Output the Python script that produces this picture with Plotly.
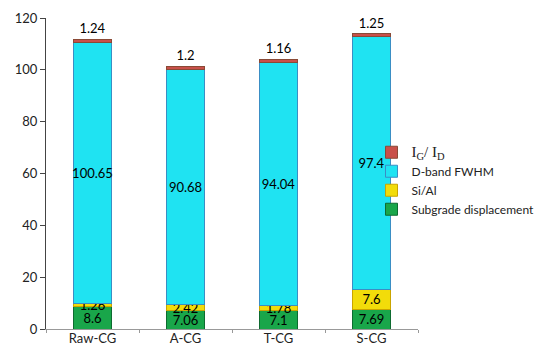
import plotly.graph_objects as go

categories = ["Raw-CG", "A-CG", "T-CG", "S-CG"]
subgrade = [8.6, 7.06, 7.1, 7.69]
si_al = [1.26, 2.42, 1.78, 7.6]
dband = [100.65, 90.68, 94.04, 97.4]
ig_id = [1.24, 1.2, 1.16, 1.25]
y_ticks = [0, 20, 40, 60, 80, 100, 120]

FONT = "Lato, Liberation Sans, sans-serif"

fig = go.Figure()
series = [
    ("Subgrade displacement", subgrade, "#19a64a", "#0e6b30", "inside"),
    ("Si/Al", si_al, "#f2dc0a", "#c9a400", "inside"),
    ("D-band FWHM", dband, "#1fe3f2", "#3a8ec4", "inside"),
    ("I<sub>G</sub>/ I<sub>D</sub>", ig_id, "#c9504a", "#8a4a36", "outside"),
]
for i, (name, vals, col, edge, pos) in enumerate(series):
    if i == 3:
        name = "<span style='font-family:Liberation Serif, serif;font-size:15px'>I<sub>G</sub>/ I<sub>D</sub></span>"
    fig.add_trace(go.Bar(
        x=categories, y=vals, name=name,
        marker=dict(color=col, line=dict(color=edge, width=1)),
        text=[str(v) for v in vals], textposition=pos,
        textangle=0, constraintext="none", cliponaxis=False,
        textfont=dict(family=FONT, size=13, color="black"),
        insidetextanchor="middle",
        legendgroup=str(i),
    ))

fig.update_layout(
    barmode="stack",
    bargap=0.6,
    width=550, height=347,
    margin=dict(l=38, r=140, t=10, b=26, autoexpand=False),
    plot_bgcolor="white", paper_bgcolor="white",
    font=dict(family=FONT, size=13, color="#222"),
    showlegend=True,
    legend=dict(x=0.875, y=0.615, xanchor="left", yanchor="top",
                traceorder="reversed", tracegroupgap=9,
                bgcolor="rgba(0,0,0,0)",
                font=dict(family=FONT, size=12, color="#222"),
                itemwidth=30),
)
fig.update_yaxes(range=[0, 120], tickvals=y_ticks, showgrid=False,
                 showline=True, linecolor="#444", linewidth=1,
                 ticks="outside", ticklen=5, tickcolor="#444",
                 zeroline=False, tickfont=dict(size=13))
fig.update_xaxes(showline=True, linecolor="#999", linewidth=1,
                 ticks="outside", ticklen=3, tickcolor="#999",
                 ticklabelstandoff=-3,
                 tickson="boundaries", tickfont=dict(size=13))

fig.write_html("out.html")
